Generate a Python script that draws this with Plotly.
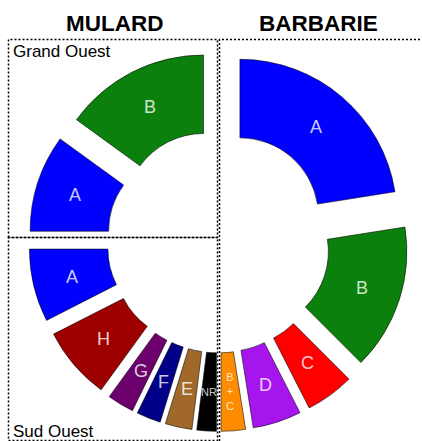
import math
import plotly.graph_objects as go

W, H = 422, 441

# Mulard, Grand Ouest (share of the group, %)
grand_ouest_labels = ["A", "B"]
grand_ouest_values = [40, 60]

# Mulard, Sud Ouest
sud_ouest_labels = ["A", "H", "G", "F", "E", "NR"]
sud_ouest_values = [30, 30, 11, 10, 11, 8]

# Barbarie
barbarie_labels = ["A", "B", "C", "D", "B<br>+<br>C"]
barbarie_values = [45, 30, 10, 10, 5]

COLORS = {
    "A": "#0000ff", "B": "#0c800c", "C": "#ff0000", "D": "#a614ee",
    "B<br>+<br>C": "#ff8c00", "E": "#a0692a", "F": "#000088",
    "G": "#6c006c", "H": "#9e0000", "NR": "#000000",
}
LABEL_SIZE = {"NR": 11, "B<br>+<br>C": 11}

FONT = "Liberation Sans, Arial, sans-serif"
HOLE = 0.5
PULL = 0.21
CX, CY, BOX = 218.5, 241.4, 380  # shared centre and pie box, in pixels
R_OUT = BOX / 2 / (1 + PULL)      # radius plotly gives a pulled pie
R_IN = HOLE * R_OUT
R_TXT = (R_OUT + R_IN) / 2


def px_x(x):
    return x / W


def px_y(y):
    return 1 - y / H


fig = go.Figure()
label_annotations = []


def add_group(labels, values, span_deg, rotation):
    """One group drawn as a partial donut (clockwise from `rotation`,
    degrees clockwise from 12 o'clock); the rest of the circle is an
    invisible filler slice."""
    filler = sum(values) * (360.0 / span_deg - 1)
    n = len(labels)
    fig.add_trace(go.Pie(
        labels=[f"{lab}|{rotation}" for lab in labels] + [f"rest|{rotation}"],
        values=list(values) + [filler],
        textinfo="none",
        marker=dict(
            colors=[COLORS[lab] for lab in labels] + ["rgba(0,0,0,0)"],
            line=dict(color=["rgba(0,0,0,0.55)"] * n + ["rgba(0,0,0,0)"],
                      width=[1] * n + [0]),
        ),
        pull=[PULL] * (n + 1),
        hole=HOLE,
        sort=False,
        direction="clockwise",
        rotation=rotation,
        hoverinfo="skip",
        showlegend=False,
        domain=dict(
            x=[px_x(CX - BOX / 2), px_x(CX + BOX / 2)],
            y=[px_y(CY + BOX / 2), px_y(CY - BOX / 2)],
        ),
    ))
    # slice labels, centred in the ring of each pulled-out slice
    total = sum(values) + filler
    start = rotation
    for lab, v in zip(labels, values):
        sweep = 360.0 * v / total
        mid = math.radians(start + sweep / 2)
        dx, dy = math.sin(mid), -math.cos(mid)
        off = PULL * R_OUT + R_TXT
        label_annotations.append(dict(
            text=lab, x=px_x(CX + off * dx), y=px_y(CY + off * dy),
            size=LABEL_SIZE.get(lab, 18)))
        start += sweep


# Grand Ouest: from 9 o'clock up to 12 o'clock
add_group(grand_ouest_labels, grand_ouest_values, 90, -90)
# Sud Ouest: from 6 o'clock round to 9 o'clock (drawn in reverse order)
add_group(sud_ouest_labels[::-1], sud_ouest_values[::-1], 90, 180)
# Barbarie: right half, from 12 o'clock down to 6 o'clock
add_group(barbarie_labels, barbarie_values, 180, 0)

for a in label_annotations:
    fig.add_annotation(text=a["text"], x=a["x"], y=a["y"], xref="paper", yref="paper",
                       xanchor="center", yanchor="middle", showarrow=False,
                       font=dict(family=FONT, size=a["size"],
                                 color="rgba(255,255,255,0.8)"))

# dotted panel frames
dot = dict(color="black", width=1.5, dash="2px,2px")
panels = [
    (8.5, 39.5, 217.5, 237.5),
    (8.5, 237.5, 217.5, 440.5),
    (219.5, 39.5, 430, 443),
]
for x0, y0, x1, y1 in panels:
    fig.add_shape(type="rect", xref="paper", yref="paper",
                  x0=px_x(x0), x1=px_x(x1), y0=px_y(y1), y1=px_y(y0),
                  line=dot, fillcolor="rgba(0,0,0,0)", layer="above")

titles = [
    dict(text="<b>MULARD</b>", x=px_x(114), y=px_y(23.5), size=22.5, xanchor="center"),
    dict(text="<b>BARBARIE</b>", x=px_x(318), y=px_y(23.5), size=22.5, xanchor="center"),
    dict(text="Grand Ouest", x=px_x(11), y=px_y(51.5), size=17, xanchor="left"),
    dict(text="Sud Ouest", x=px_x(11), y=px_y(431), size=17, xanchor="left"),
]
for a in titles:
    fig.add_annotation(text=a["text"], x=a["x"], y=a["y"], xref="paper", yref="paper",
                       xanchor=a["xanchor"], yanchor="middle", showarrow=False,
                       font=dict(family=FONT, size=a["size"], color="black"))

fig.update_layout(
    width=W, height=H,
    margin=dict(l=0, r=0, t=0, b=0),
    paper_bgcolor="white",
    plot_bgcolor="white",
    showlegend=False,
)

fig.write_html("out.html")
